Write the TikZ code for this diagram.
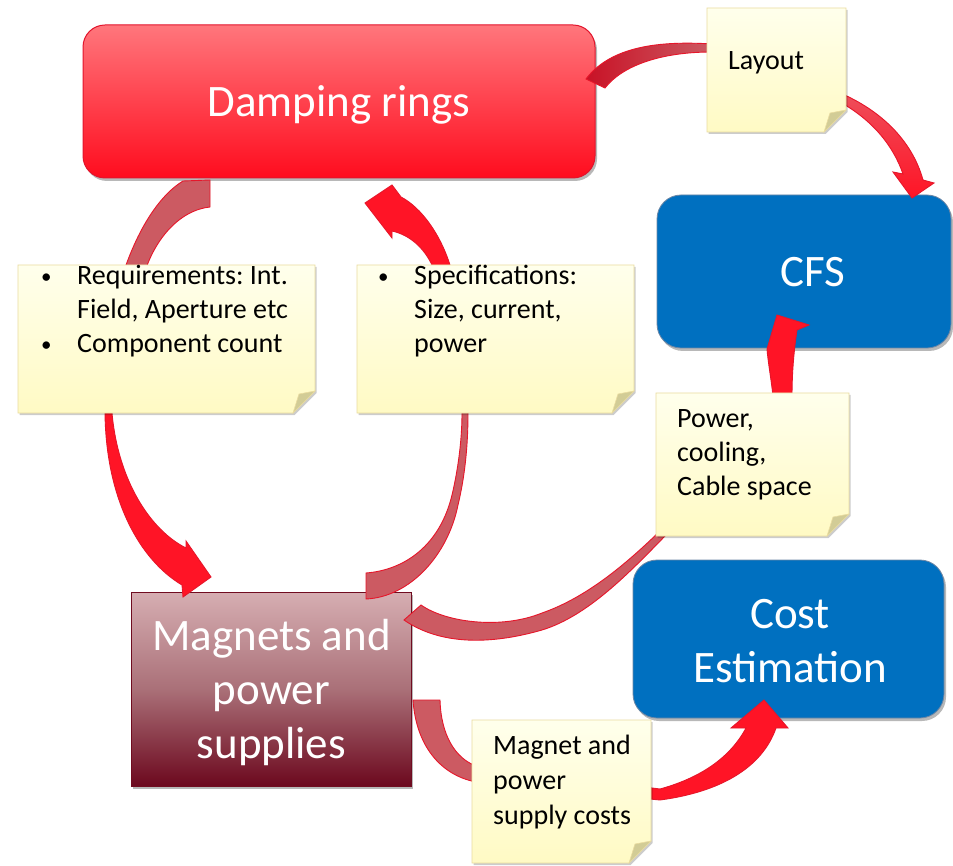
\documentclass[tikz,border=0pt]{standalone}
\usepackage{fontspec}
\setmainfont{Carlito}
\usetikzlibrary{shadows}
\definecolor{drtop}{RGB}{255,118,124}
\definecolor{drbot}{RGB}{255,12,30}
\definecolor{drline}{RGB}{226,20,44}
\definecolor{blueb}{RGB}{0,112,192}
\definecolor{blueline}{RGB}{110,135,165}
\definecolor{magtop}{RGB}{214,174,178}
\definecolor{magmid}{RGB}{170,112,120}
\definecolor{magbot}{RGB}{108,8,30}
\definecolor{magline}{RGB}{112,12,32}
\definecolor{notetop}{RGB}{255,255,236}
\definecolor{notebot}{RGB}{255,250,196}
\definecolor{noteline}{RGB}{234,220,160}
\definecolor{notefold}{RGB}{210,204,150}
\definecolor{arrmute}{RGB}{204,90,98}
\definecolor{arrbright}{RGB}{255,20,38}
\definecolor{arrline}{RGB}{230,22,42}
\definecolor{arrdark}{RGB}{200,18,38}
\definecolor{arrpink}{RGB}{238,78,90}

\newcommand\stickynote[5]{%
  \path[notebody] (#2,#3) -- (#4,#3) -- (#4,#5-22) -- (#4-22,#5) -- (#2,#5) -- cycle;
  \path[notefoldstyle] (#4,#5-22) -- (#4-22,#5) -- (#4-16,#5-19) -- cycle;
  \coordinate (#1) at ({(#2+#4)/2},{(#3+#5)/2});
}
\newcommand\notebullet{\raisebox{1.5pt}{\fontsize{21}{21}\selectfont\textbullet}}

% block arrow outlines
\def\arrLayoutDR{(712,44) .. controls (650,40) and (608,50) .. (586,79) -- (605,88) .. controls (622,66) and (660,52) .. (712,52) -- cycle}
\def\arrLayoutCFS{(840,93) .. controls (880,110) and (912,140) .. (923,180) -- (934,183) -- (912,198) -- (893,172) -- (903,174) .. controls (893,145) and (872,120) .. (840,102) -- cycle}
\def\arcLpath{(183,181) -- (210,180) -- (210,207) .. controls (180,210) and (150,240) .. (140,290) .. controls (128,330) and (112,370) .. (112,413) .. controls (118,480) and (150,530) .. (186,548) -- (186,541) -- (211,577) -- (183,597) -- (182,585) .. controls (140,560) and (106,500) .. (105,413) .. controls (106,370) and (112,330) .. (118,290) .. controls (135,230) and (160,195) .. (183,181) -- cycle}
\def\arcRpath{(366,573) .. controls (405,570) and (440,545) .. (452,495) .. controls (458,470) and (462,440) .. (462,413) .. controls (460,330) and (445,290) .. (432,265) .. controls (424,248) and (410,235) .. (392,231) -- (392,238) -- (365,203) -- (392,185) -- (401,197) .. controls (422,208) and (440,235) .. (449,262) .. controls (462,300) and (468,360) .. (468,413) .. controls (468,450) and (464,480) .. (458,505) .. controls (448,555) and (410,597) .. (366,599) -- cycle}
\def\pwrpath{(421,605) .. controls (445,622) and (500,630) .. (542,613) .. controls (588,597) and (628,562) .. (660,531) -- (773,396) .. controls (771,378) and (768,362) .. (767,349) -- (777,315) -- (809,325) -- (797,330) .. controls (794,350) and (792,372) .. (792,396) -- (666,535) .. controls (630,572) and (588,616) .. (542,630) .. controls (490,645) and (440,645) .. (404,620) -- cycle}
\def\costpath{(413,700) -- (440,700) .. controls (441,735) and (455,758) .. (476,766) -- (660,789) .. controls (700,778) and (730,758) .. (746,728) -- (731,728) -- (764,700) -- (788,728) -- (776,728) .. controls (762,768) and (720,792) .. (660,800) -- (476,782) .. controls (440,775) and (416,745) .. (413,700) -- cycle}

\begin{document}
\frenchspacing
\begin{tikzpicture}[x=1pt,y=-1pt,
  boxshadow/.style={drop shadow={shadow xshift=2pt,shadow yshift=-3pt,opacity=0.28,fill=black}},
  drbox/.style={rectangle, rounded corners=22pt, draw=drline, line width=1pt, top color=drtop, bottom color=drbot, boxshadow, inner sep=0pt},
  bluebox/.style={rectangle, rounded corners=24pt, draw=blueline, line width=0.8pt, fill=blueb, boxshadow, inner sep=0pt},
  magbox/.style={rectangle, draw=magline, line width=1pt, top color=magtop, bottom color=magbot, middle color=magmid, boxshadow, inner sep=0pt},
  boxtext/.style={text=white, font=\fontsize{45}{54}\selectfont, inner sep=0pt},
  notetext/.style={text=black, font=\fontsize{28}{34}\selectfont, inner sep=0pt},
  notebody/.style={draw=noteline, line width=0.8pt, top color=notetop, bottom color=notebot, drop shadow={shadow xshift=1.5pt,shadow yshift=-2pt,opacity=0.2,fill=black}},
  notefoldstyle/.style={fill=notefold, draw=noteline, line width=0.6pt},
  arrmuted/.style={fill=arrmute, draw=arrline, line width=0.9pt},
  arrbrightstyle/.style={fill=arrbright, draw=arrline, line width=0.9pt},
]
\fill[white] (0,0) rectangle (953,866);
\useasboundingbox (0,0) rectangle (953,866);

% ---- boxes ----
\node[drbox, minimum width=512pt, minimum height=153pt] (dr) at (339,101.5) {};
\node[bluebox, minimum width=294pt, minimum height=153pt] (cfs) at (804,271.5) {};
\node[bluebox, minimum width=311pt, minimum height=158pt] (cost) at (788.5,639) {};
\node[magbox, minimum width=280pt, minimum height=194pt] (mag) at (271,689) {};

% ---- block arrows ----
\path[left color=arrdark, right color=arrmute, draw=arrline, line width=0.9pt] \arrLayoutDR;
\path[top color=arrpink, bottom color=arrbright, draw=arrline, line width=0.9pt] \arrLayoutCFS;
\begin{scope}
  \clip (0,0) rectangle (953,340);
  \path[arrmuted] \arcLpath;
  \path[arrbrightstyle] \arcRpath;
\end{scope}
\begin{scope}
  \clip (0,340) rectangle (953,866);
  \path[arrbrightstyle] \arcLpath;
  \path[arrmuted] \arcRpath;
\end{scope}
\begin{scope}
  \clip (0,0) rectangle (953,460);
  \path[arrbrightstyle] \pwrpath;
\end{scope}
\begin{scope}
  \clip (0,460) rectangle (953,866);
  \path[arrmuted] \pwrpath;
\end{scope}
\begin{scope}
  \clip (0,0) rectangle (560,866);
  \path[arrmuted] \costpath;
\end{scope}
\begin{scope}
  \clip (560,0) rectangle (953,866);
  \path[arrbrightstyle] \costpath;
\end{scope}

% ---- sticky notes ----
\stickynote{layoutnote}{707}{8}{846}{132}
\stickynote{reqnote}{18}{265}{315}{413}
\stickynote{specnote}{357}{265}{634}{413}
\stickynote{powernote}{656}{393}{849}{536}
\stickynote{costnote}{472}{720}{651}{863}

% ---- box texts ----
\node[boxtext, anchor=base] (drtext) at (339,117) {Damping rings};
\node[boxtext, anchor=base] (cfstext) at (813,287) {CFS};
\node[boxtext, anchor=base] (costtext) at (790,628) {\begin{tabular}[t]{@{}c@{}}Cost\\Estimation\end{tabular}};
\node[boxtext, anchor=base] (magtext) at (271.5,650) {\begin{tabular}[t]{@{}c@{}}Magnets and\\power\\supplies\end{tabular}};

% ---- note texts ----
\node[notetext, anchor=base west] (layouttext) at (728,70) {Layout};
\node[notetext, anchor=base west] (reqtext) at (41,285) {\begin{tabular}[t]{@{}p{36pt}@{}l@{}}\notebullet & Requirements: Int.\\ & Field, Aperture etc\\ \notebullet & Component count\end{tabular}};
\node[notetext, anchor=base west] (spectext) at (378,285) {\begin{tabular}[t]{@{}p{36pt}@{}l@{}}\notebullet & Specifications:\\ & Size, current,\\ & power\end{tabular}};
\node[notetext, anchor=base west] (powertext) at (677,427) {\begin{tabular}[t]{@{}l@{}}Power,\\cooling,\\Cable space\end{tabular}};
\node[notetext, anchor=base west, font=\fontsize{28}{35}\selectfont] (costnotetext) at (493,754) {\begin{tabular}[t]{@{}l@{}}Magnet and\\power\\supply costs\end{tabular}};
\end{tikzpicture}
\end{document}
